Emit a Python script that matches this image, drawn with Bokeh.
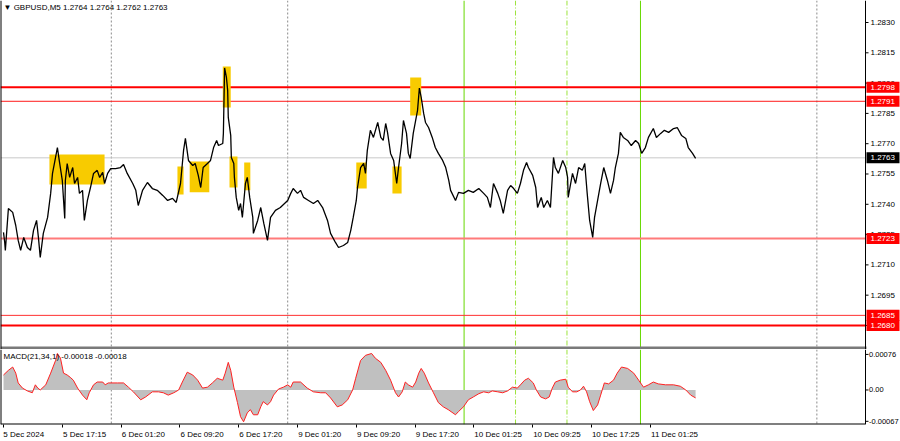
from bokeh.plotting import figure
from bokeh.layouts import column
from bokeh.models import Range1d, FixedTicker, Span
from bokeh.core.properties import value
from bokeh.embed import file_html
from bokeh.resources import INLINE

FONT = "Liberation Sans"

# ---------------- data (bar index of M5 candles, close price) ----------------
price_bar = [0, 2, 3, 8, 15, 20, 24, 28, 33, 39, 44, 49, 54, 57, 60, 65, 72, 77, 80, 85,
             88, 91, 96, 100, 101, 104, 108, 113, 116, 121, 124, 129, 132, 137, 142, 147,
             153, 157, 162, 165, 170, 175, 183, 191, 196, 202, 211, 216, 220, 227, 235,
             243, 251, 260, 268, 276, 282, 289, 294, 297, 302, 309, 313, 318, 322, 326,
             333, 338, 343, 348, 351, 358, 359, 361, 364, 366, 367, 371, 372, 376, 377,
             380, 384, 387, 390, 395, 398, 402, 407, 408, 415, 420, 425, 431, 436, 444,
             452, 464, 469, 473, 480, 485, 490, 498, 506, 513, 521, 529, 534, 542, 547,
             555, 562, 567, 571, 576, 578, 583, 588, 591, 594, 599, 604, 611, 616, 620,
             624, 627, 632, 637, 642, 645, 650, 653, 658, 661, 664, 669, 676, 679, 682,
             686, 689, 694, 700, 705, 710, 717, 722, 727, 730, 738, 743, 751, 759, 767,
             776, 784, 790, 795, 800, 807, 811, 816, 823, 828, 833, 839, 844, 849, 854,
             857, 864, 869, 872, 878, 882, 888, 893, 898, 901, 906, 913, 918, 921, 922,
             929, 934, 939, 945, 949, 953, 957, 962, 965, 970, 975, 980, 986, 991, 996,
             999, 1004, 1007, 1012, 1019, 1025, 1032, 1037, 1042, 1048, 1053, 1061, 1066,
             1073, 1079, 1086, 1094, 1100, 1107, 1114, 1118, 1125, 1130]
price_val = [1.27261, 1.27211, 1.27172, 1.27379, 1.27360, 1.27295, 1.27221, 1.27172, 1.27236,
             1.27186, 1.27172, 1.27271, 1.27320, 1.27236, 1.27137, 1.27256, 1.27335, 1.27454,
             1.27553, 1.27632, 1.27681, 1.27617, 1.27518, 1.27330, 1.27518, 1.27602, 1.27533,
             1.27582, 1.27503, 1.27533, 1.27454, 1.27469, 1.27320, 1.27419, 1.27483, 1.27553,
             1.27568, 1.27533, 1.27558, 1.27503, 1.27553, 1.27577, 1.27577, 1.27582, 1.27597,
             1.27553, 1.27503, 1.27469, 1.27394, 1.27469, 1.27508, 1.27478, 1.27469, 1.27444,
             1.27419, 1.27429, 1.27409, 1.27503, 1.27667, 1.27726, 1.27617, 1.27592, 1.27602,
             1.27543, 1.27483, 1.27582, 1.27602, 1.27617, 1.27681, 1.27716, 1.27691, 1.27701,
             1.27751, 1.28075, 1.28028, 1.27964, 1.27830, 1.27741, 1.27632, 1.27602, 1.27533,
             1.27434, 1.27370, 1.27404, 1.27335, 1.27503, 1.27533, 1.27434, 1.27335, 1.27256,
             1.27320, 1.27384, 1.27305, 1.27221, 1.27335, 1.27370, 1.27384, 1.27419, 1.27454,
             1.27478, 1.27454, 1.27469, 1.27434, 1.27419, 1.27404, 1.27419, 1.27384, 1.27320,
             1.27256, 1.27211, 1.27186, 1.27196, 1.27211, 1.27271, 1.27335, 1.27419, 1.27483,
             1.27582, 1.27602, 1.27553, 1.27667, 1.27766, 1.27731, 1.27805, 1.27731, 1.27716,
             1.27800, 1.27756, 1.27652, 1.27617, 1.27503, 1.27582, 1.27701, 1.27815, 1.27751,
             1.27652, 1.27627, 1.27751, 1.27865, 1.27975, 1.27929, 1.27850, 1.27805, 1.27780,
             1.27731, 1.27681, 1.27652, 1.27617, 1.27582, 1.27518, 1.27469, 1.27419, 1.27459,
             1.27454, 1.27469, 1.27459, 1.27478, 1.27454, 1.27434, 1.27384, 1.27503, 1.27454,
             1.27419, 1.27355, 1.27469, 1.27493, 1.27478, 1.27454, 1.27503, 1.27568, 1.27607,
             1.27582, 1.27543, 1.27483, 1.27384, 1.27434, 1.27384, 1.27419, 1.27384, 1.27632,
             1.27582, 1.27553, 1.27617, 1.27582, 1.27533, 1.27434, 1.27553, 1.27503, 1.27582,
             1.27568, 1.27602, 1.27454, 1.27320, 1.27236, 1.27335, 1.27419, 1.27503, 1.27582,
             1.27518, 1.27454, 1.27518, 1.27582, 1.27652, 1.27756, 1.27731, 1.27716, 1.27691,
             1.27716, 1.27701, 1.27652, 1.27681, 1.27731, 1.27775, 1.27731, 1.27751, 1.27766,
             1.27756, 1.27775, 1.27780, 1.27741, 1.27726, 1.27681, 1.27652, 1.27627]

macd_bar = [0, 8, 15, 20, 24, 31, 39, 47, 52, 56, 60, 69, 77, 85, 88, 93, 98, 104, 109, 114,
            121, 129, 136, 140, 147, 153, 162, 166, 171, 186, 196, 204, 212, 224, 232, 243,
            253, 261, 269, 278, 286, 292, 300, 309, 317, 325, 333, 341, 349, 358, 362, 367,
            371, 376, 382, 387, 392, 398, 403, 408, 415, 420, 424, 431, 436, 441, 449, 457,
            464, 469, 473, 485, 496, 506, 518, 526, 534, 545, 553, 562, 570, 575, 583, 591,
            601, 607, 616, 624, 632, 640, 645, 651, 656, 661, 668, 673, 678, 682, 687, 694,
            702, 710, 718, 726, 738, 743, 751, 759, 767, 776, 784, 792, 798, 807, 815, 823,
            831, 839, 844, 851, 857, 865, 870, 877, 885, 891, 896, 901, 909, 918, 922, 929,
            936, 942, 947, 952, 957, 963, 970, 975, 981, 988, 996, 1002, 1009, 1019, 1029,
            1037, 1045, 1053, 1061, 1069, 1081, 1094, 1105, 1114, 1122, 1130]
macd_val = [0.00032, 0.00042, 0.00049, 0.00036, 0.00015, 0.00004, -0.00002, -0.00006, 0.00011,
            0.00004, 0.0, 0.00011, 0.00036, 0.00063, 0.00078, 0.00068, 0.00036, 0.00032,
            0.00027, 0.00021, 0.00004, -0.00011, -0.00021, -0.00006, 0.00011, 0.00017,
            0.00017, 0.00011, 0.00015, 0.00015, 0.00015, 0.00006, -0.00004, -0.00021,
            -0.00015, -0.00004, -0.00004, -0.00006, -0.00011, -0.00006, 0.0, 0.00017,
            0.00038, 0.00032, 0.00021, 0.00004, 0.00006, 0.00015, 0.00025, 0.00021, 0.00036,
            0.00059, 0.00042, 0.00006, -0.00027, -0.00057, -0.00068, -0.00049, -0.00042,
            -0.00053, -0.00053, -0.00036, -0.00025, -0.00032, -0.00025, -0.00011, 0.00002,
            0.00006, 0.00011, 0.00006, 0.00017, 0.00017, 0.00004, -0.00004, -0.00006, -0.00006,
            -0.00017, -0.00036, -0.00032, -0.00021, 0.0, 0.00025, 0.00063, 0.00074, 0.00078,
            0.00068, 0.00059, 0.00042, 0.00021, -0.00006, -0.00015, -0.00004, 0.00017,
            0.00011, 0.00006, 0.00017, 0.00036, 0.00046, 0.00036, 0.00015, -0.00006, -0.00027,
            -0.00036, -0.00042, -0.00053, -0.00046, -0.00036, -0.00021, -0.00015, -0.00008,
            -0.00004, -0.00006, -0.00002, -0.00004, -0.00006, -0.00002, 0.00006, 0.00004,
            0.00011, 0.00021, 0.00025, 0.00015, 0.0, -0.00015, -0.00019, -0.00015, 0.00004,
            0.00017, 0.00021, 0.00023, 0.00006, -0.00004, -0.00004, 0.0, 0.00008, -0.00004,
            -0.00025, -0.00044, -0.00032, -0.00011, 0.00015, 0.00013, 0.00021, 0.00036,
            0.00049, 0.00046, 0.00036, 0.00021, 0.00006, 0.00011, 0.00017, 0.00013, 0.00011,
            0.00011, 0.00008, 0.0, -0.00011, -0.00017]

# highlighted zones
box_left = [75, 284, 304, 358, 369, 393, 576, 635, 664]
box_right = [165, 294, 336, 371, 382, 403, 593, 650, 682]
box_top = [1.27647, 1.27587, 1.27612, 1.28082, 1.27637, 1.27607, 1.27607, 1.27587, 1.28028]
box_bottom = [1.27498, 1.27449, 1.27459, 1.27879, 1.27483, 1.27469, 1.27478, 1.27454, 1.27840]

# horizontal levels
level_prices = [1.2798, 1.2791, 1.2763, 1.2723, 1.2685, 1.2680]
level_line_colors = ["#FF0000", "#FF1A1A", "#C8C8C8", "#FF7A7A", "#FF3030", "#FF0000"]
level_line_widths = [2, 1, 1, 2, 1, 2]
level_tag_colors = ["#FF0000", "#FF0000", "#000000", "#FF0000", "#FF0000", "#FF0000"]

# vertical markers (bar index)
day_separators = [176, 464, 1328]
green_solid = [752, 1040]
green_dashdot = [836, 920]

# axes
price_ticks = [1.2830, 1.2815, 1.2800, 1.2785, 1.2770, 1.2755, 1.2740, 1.2725, 1.2710, 1.2695, 1.2680]
macd_ticks = [0.00076, 0.0, -0.00067]
macd_tick_labels = ["0.00076", "0.00", "-0.00067"]
time_ticks = [0, 96, 192, 288, 384, 480, 576, 672, 768, 864, 960, 1056]
time_labels = ["5 Dec 2024", "5 Dec 17:15", "6 Dec 01:20", "6 Dec 09:20", "6 Dec 17:20",
               "9 Dec 01:20", "9 Dec 09:20", "9 Dec 17:20", "10 Dec 01:25", "10 Dec 09:25",
               "10 Dec 17:25", "11 Dec 01:25"]

title_text = "\u25bc GBPUSD,M5 1.2764 1.2764 1.2762 1.2763"
macd_text = "MACD(21,34,1) -0.00018 -0.00018"

# ---------------- geometry ----------------
W = 900
PLOT_PX = 865                     # width of the chart area left of the price scale
X0 = -4.9                         # first visible bar position
AX = 1407.4                       # bar position of the price-scale line
BPX = (AX - X0) / PLOT_PX         # bars per pixel
X1 = X0 + W * BPX

P_TOP, P_BOT, P_H = 1.28409, 1.26681, 349
PPX = (P_TOP - P_BOT) / P_H
M_TOP, M_BOT, M_FH, XB = 0.000865, -0.000738, 76, 16
MPX = (M_TOP - M_BOT) / M_FH

xr = Range1d(X0, X1)

p = figure(width=W, height=P_H, x_range=xr, y_range=Range1d(P_BOT, P_TOP),
           output_backend="svg", toolbar_location=None, x_axis_location=None,
           y_axis_location=None, min_border=0)
q = figure(width=W, height=M_FH + XB, x_range=xr, y_range=Range1d(M_BOT, M_TOP),
           output_backend="svg", toolbar_location=None, y_axis_location=None,
           min_border_left=0, min_border_right=0, min_border_top=0, min_border_bottom=XB)

TXT = dict(text_font=value(FONT), text_font_size=value("8px"), text_baseline="middle",
           text_align="left")
TXT_SMALL = dict(TXT, text_font_size=value("7.5px"))

for f in (p, q):
    f.grid.visible = False
    f.outline_line_color = None
    f.background_fill_color = "white"
    f.border_fill_color = "white"
    for b in day_separators:
        f.add_layout(Span(location=b, dimension="height", line_color="#8a8a8a",
                          line_width=1, line_dash="2 2", level="underlay"))
    for b in green_solid:
        f.add_layout(Span(location=b, dimension="height", line_color="#66D800",
                          line_width=1, level="underlay"))
    for b in green_dashdot:
        f.add_layout(Span(location=b, dimension="height", line_color="#9BE33A",
                          line_width=1, line_dash="5 2 1 2", level="underlay"))

# ---------------- price panel ----------------
p.segment(x0=[X0] * len(level_prices), x1=[AX] * len(level_prices), y0=level_prices,
          y1=level_prices, line_color=level_line_colors, line_width=level_line_widths)
p.quad(left=box_left, right=box_right, top=box_top, bottom=box_bottom,
       fill_color="#F8CB00", line_color=None)
p.line(price_bar, price_val, line_color="black", line_width=1.3)

# window divider and chart border
p.quad(left=[X0], right=[AX + BPX], bottom=[P_BOT], top=[P_BOT + 3 * PPX],
       fill_color="#7a7a7a", line_color=None)
p.segment(x0=[X0], x1=[X0], y0=[P_BOT], y1=[P_TOP], line_color="black", line_width=2)

# price scale
p.segment(x0=[AX], x1=[AX], y0=[P_BOT], y1=[P_TOP], line_color="black", line_width=1)
p.segment(x0=[AX] * len(price_ticks), x1=[AX + 3 * BPX] * len(price_ticks),
          y0=price_ticks, y1=price_ticks, line_color="black", line_width=1)
p.text(x=[AX + 5 * BPX] * len(price_ticks), y=price_ticks,
       text=[f"{t:.4f}" for t in price_ticks], text_color="black", **TXT)

# price tags
n = len(level_prices)
p.quad(left=[AX + 1 * BPX] * n, right=[AX + 34 * BPX] * n,
       top=[v + 5.5 * PPX for v in level_prices], bottom=[v - 5.5 * PPX for v in level_prices],
       fill_color=level_tag_colors, line_color=None)
p.text(x=[AX + 5 * BPX] * n, y=level_prices, text=[f"{v:.4f}" for v in level_prices],
       text_color="white", **TXT)

p.text(x=[X0 + 3 * BPX], y=[P_TOP - 7 * PPX], text=[title_text], text_color="black", **TXT)

# ---------------- MACD panel ----------------
q.varea(x=macd_bar, y1=[0] * len(macd_bar), y2=macd_val, fill_color="#C0C0C0")
q.line(macd_bar, macd_val, line_color="#FF2020", line_width=1)

q.segment(x0=[X0], x1=[X0], y0=[M_BOT], y1=[M_TOP], line_color="black", line_width=2)
q.segment(x0=[X0], x1=[AX], y0=[M_BOT], y1=[M_BOT], line_color="black", line_width=2)
q.segment(x0=[AX], x1=[AX], y0=[M_BOT], y1=[M_TOP], line_color="black", line_width=1)
q.segment(x0=[AX] * 3, x1=[AX + 3 * BPX] * 3, y0=macd_ticks, y1=macd_ticks,
          line_color="black", line_width=1)
q.text(x=[AX + 3.5 * BPX] * 3, y=macd_ticks, text=macd_tick_labels, text_color="black",
       **TXT_SMALL)
q.text(x=[X0 + 3 * BPX], y=[M_TOP - 7 * MPX], text=[macd_text], text_color="black", **TXT)

# time axis: labels start at their tick (MetaTrader style)
label_centers = [t + 3.3 * len(s) for t, s in zip(time_ticks, time_labels)]
xa = q.xaxis[0]
xa.ticker = FixedTicker(ticks=label_centers, minor_ticks=time_ticks)
xa.major_label_overrides = dict(zip(label_centers, time_labels))
xa.major_label_text_font = FONT
xa.major_label_text_font_size = "8px"
xa.major_label_text_color = "black"
xa.major_tick_line_color = None
xa.major_tick_out = 0
xa.major_tick_in = 0
xa.minor_tick_out = 3
xa.minor_tick_in = 0
xa.minor_tick_line_color = "black"
xa.major_label_standoff = 2
xa.axis_line_color = None

layout = column(p, q, spacing=0)
open("out.html", "w").write(file_html(layout, INLINE))
